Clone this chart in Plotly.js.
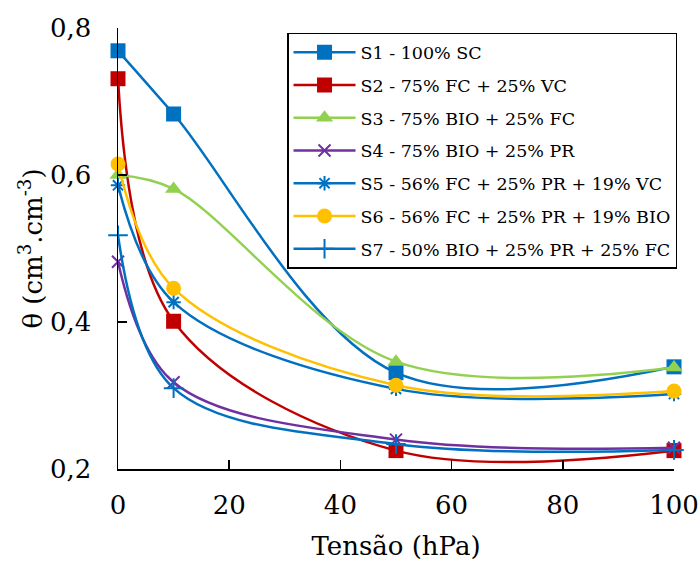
<!DOCTYPE html>
<html>
<head>
<meta charset="utf-8">
<script src="https://cdn.plot.ly/plotly-3.0.1.min.js"></script>
<style>html,body{margin:0;padding:0;background:#fff;}#chart{width:700px;height:565px;}</style>
</head>
<body>
<div id="chart"></div>
<script>
const tension = [0, 10, 50, 100];
const seriesNames = [
  "S1 - 100% SC",
  "S2 - 75% FC + 25% VC",
  "S3 - 75% BIO + 25% FC",
  "S4 - 75% BIO + 25% PR",
  "S5 - 56% FC + 25% PR + 19% VC",
  "S6 - 56% FC + 25% PR + 19% BIO",
  "S7 - 50% BIO + 25% PR + 25% FC"
];
const s1 = [0.769, 0.683, 0.331, 0.339];
const s2 = [0.731, 0.401, 0.225, 0.225];
const s3 = [0.600, 0.581, 0.346, 0.338];
const s4 = [0.482, 0.318, 0.240, 0.229];
const s5 = [0.586, 0.427, 0.309, 0.302];
const s6 = [0.615, 0.446, 0.314, 0.306];
const s7 = [0.518, 0.310, 0.234, 0.226];
const seriesValues = [s1, s2, s3, s4, s5, s6, s7];
const colors = ["#0070C0", "#C00000", "#92D050", "#7030A0", "#0070C0", "#FFC000", "#0070C0"];
const symbols = ["square", "square", "triangle-up", "x-thin-open", "asterisk-open", "circle", "cross-thin-open"];
const sizes = [15, 15, 15, 12, 12, 15, 14];
const xTicks = [0, 20, 40, 60, 80, 100];
const yTicks = [0.2, 0.4, 0.6, 0.8];
const yTickText = ["0,2", "0,4", "0,6", "0,8"];

const traces = seriesNames.map((name, i) => ({
  x: tension,
  y: seriesValues[i],
  name: name,
  legendgroup: "g" + i,
  type: "scatter",
  mode: "lines+markers",
  cliponaxis: false,
  line: {color: colors[i], width: 2.5, shape: "spline", smoothing: 1},
  marker: {
    symbol: symbols[i],
    size: sizes[i],
    color: colors[i],
    line: {color: colors[i], width: symbols[i].indexOf("open") >= 0 ? 2 : 0}
  }
}));

const fontFam = "DejaVu Serif";
const layout = {
  width: 700,
  height: 565,
  margin: {l: 118, r: 26, t: 28, b: 96},
  paper_bgcolor: "#fff",
  plot_bgcolor: "#fff",
  font: {family: fontFam, color: "#000", size: 26},
  showlegend: true,
  legend: {
    x: 0.304, y: 0.989, xanchor: "left", yanchor: "top",
    bordercolor: "#000", borderwidth: 1.5, bgcolor: "#fff",
    font: {family: fontFam, size: 17.5, color: "#000"},
    traceorder: "grouped",
    tracegroupgap: 7,
    itemwidth: 62
  },
  xaxis: {
    range: [0, 100],
    tickvals: xTicks,
    ticktext: xTicks.map(String),
    ticks: "inside", ticklen: 9, tickwidth: 1.5, tickcolor: "#000",
    showline: true, linecolor: "#000", linewidth: 1.5,
    showgrid: false, zeroline: false,
    ticklabelstandoff: 12,
    tickfont: {family: fontFam, size: 26},
    title: {text: "Tensão (hPa)", font: {family: fontFam, size: 26}, standoff: 18}
  },
  yaxis: {
    range: [0.2, 0.8],
    tickvals: yTicks,
    ticktext: yTickText,
    ticks: "inside", ticklen: 9, tickwidth: 1.5, tickcolor: "#000",
    showline: true, linecolor: "#000", linewidth: 1.5,
    showgrid: false, zeroline: false,
    ticklabelstandoff: 20,
    tickfont: {family: fontFam, size: 26},
    title: {text: "θ (cm<sup>3</sup>.cm<sup>-3</sup>)", font: {family: fontFam, size: 26}, standoff: 0}
  }
};

Plotly.newPlot("chart", traces, layout, {displayModeBar: false, staticPlot: true});
</script>
</body>
</html>
